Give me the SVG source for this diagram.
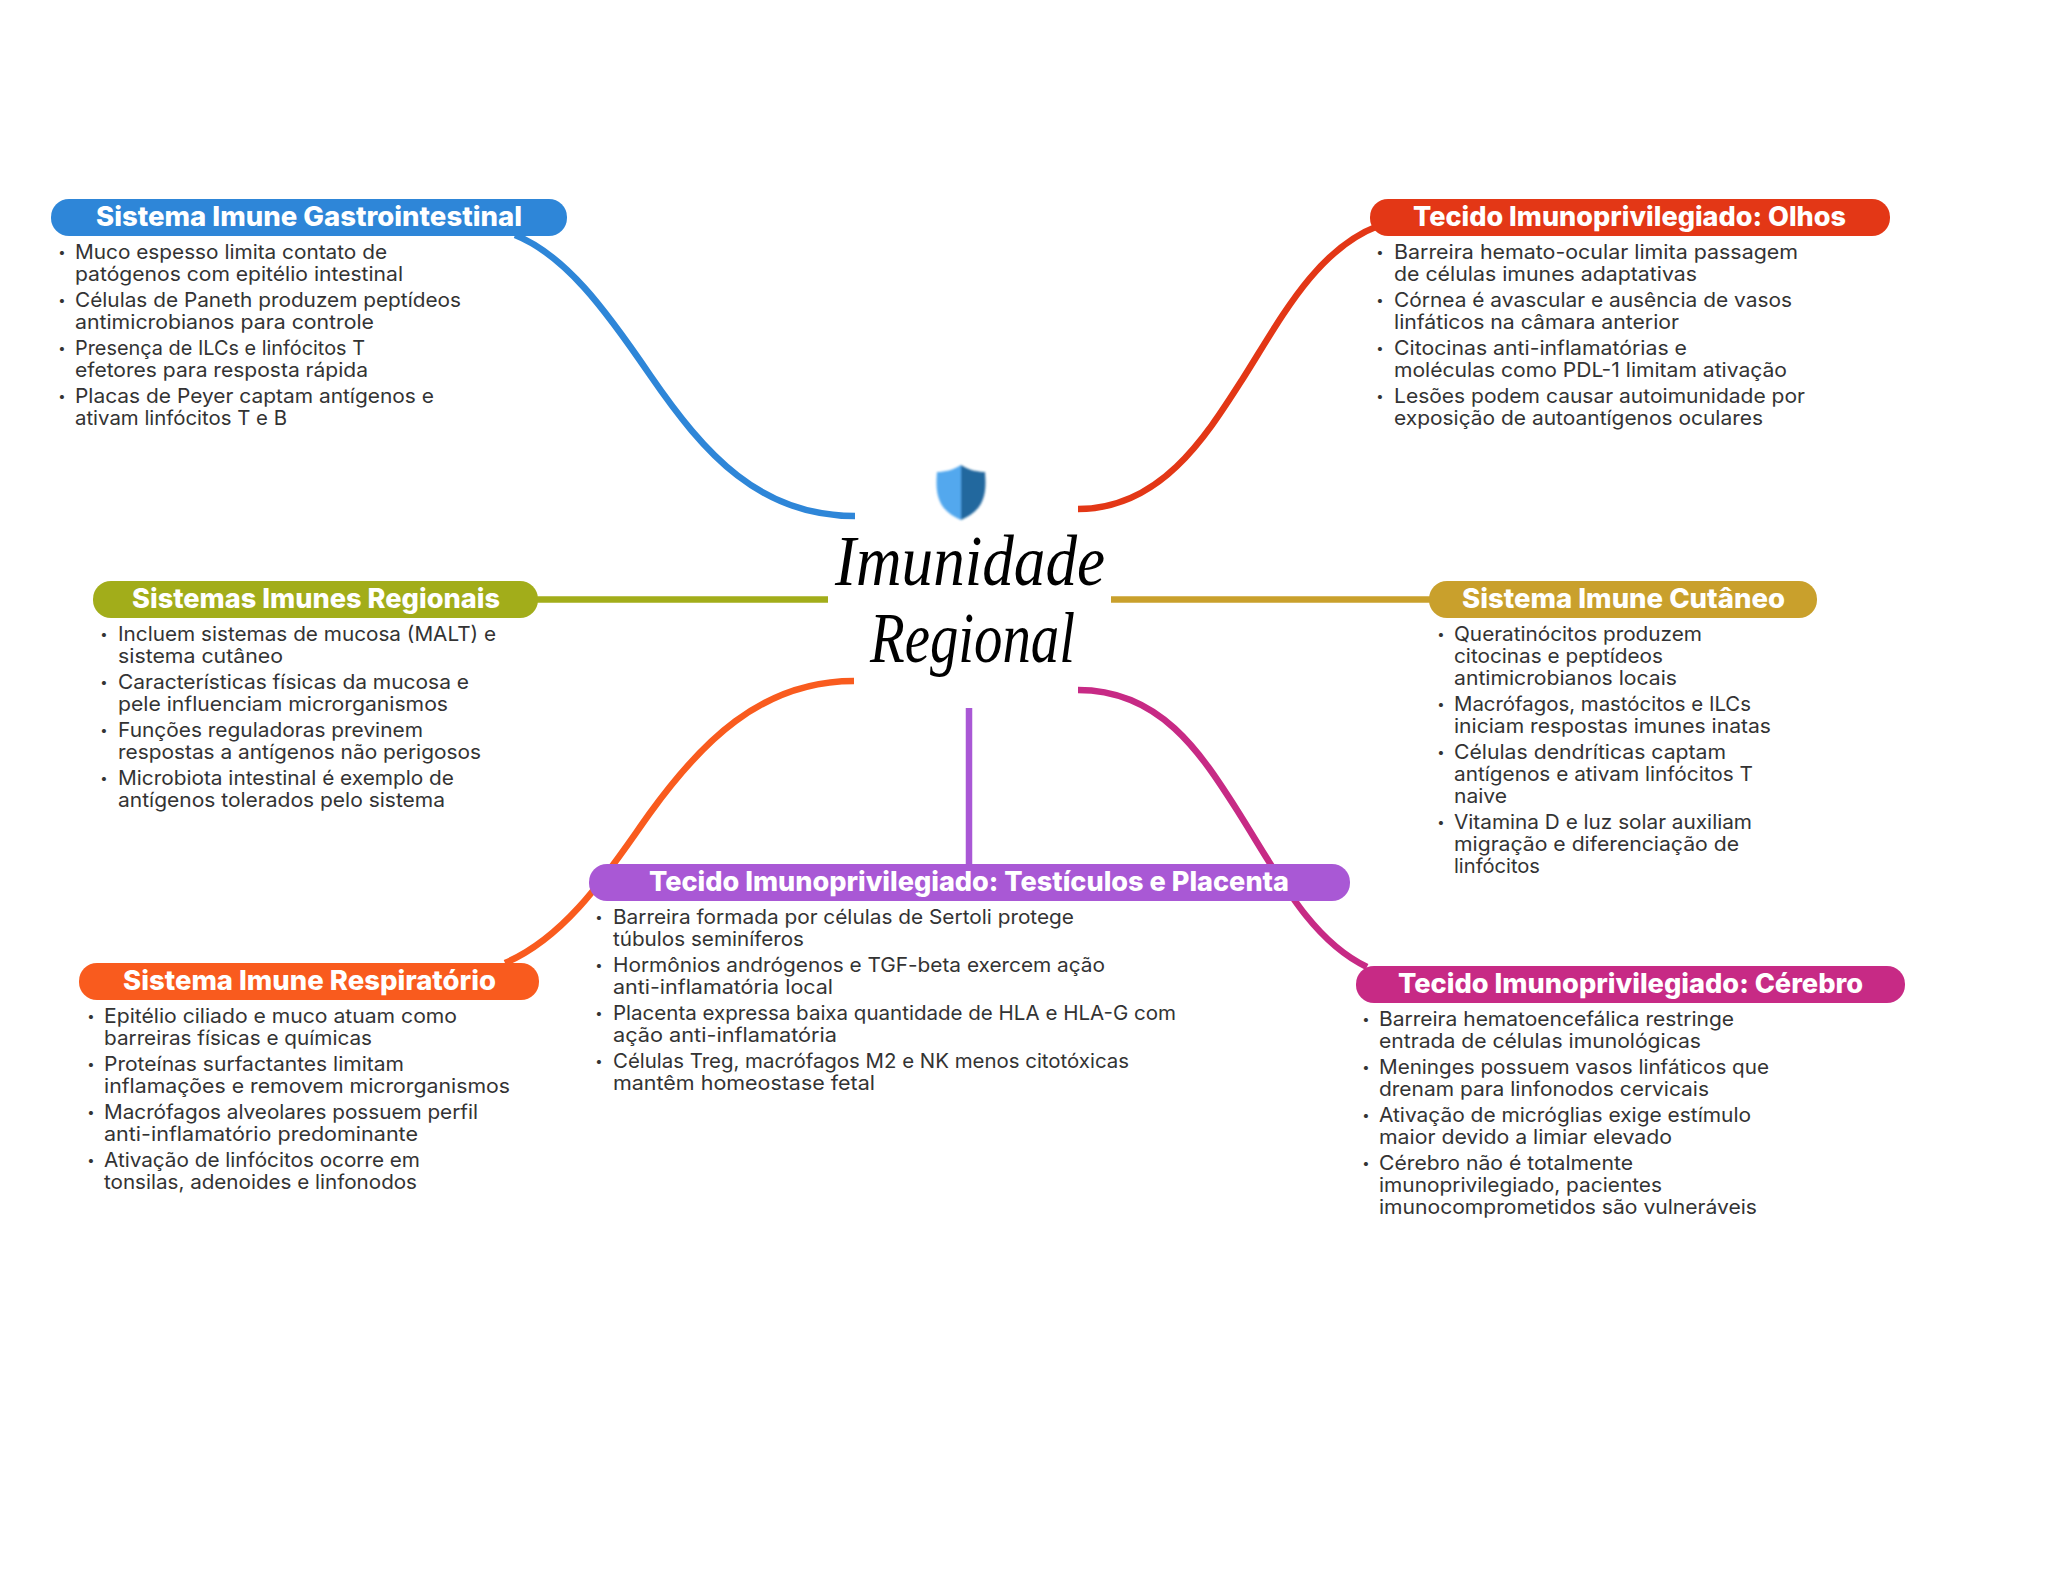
<svg xmlns="http://www.w3.org/2000/svg" width="2048" height="1569" viewBox="0 0 2048 1569">
<style>
.t{font-family:"Inter","Noto Sans","Liberation Sans",sans-serif;font-weight:800;font-size:27px;fill:#fff}
.b{font-family:"Inter","Noto Sans","Liberation Sans",sans-serif;font-weight:400;font-size:20px;fill:#333}
.d{font-family:"Inter","Noto Sans","Liberation Sans",sans-serif;font-size:13px;fill:#333;text-anchor:middle}
.c{fill:none;stroke-width:6.5}
.s{font-family:"Liberation Serif",serif;font-style:italic;font-size:72px;fill:#000}
</style>
<defs><filter id="soft" x="-20%" y="-20%" width="140%" height="140%"><feGaussianBlur stdDeviation="1.1"/></filter></defs>
<rect width="2048" height="1569" fill="#fff"/>
<g id="connectors">
<path class="c" stroke="#2E86D8" d="M855 516C760 516 705 455 650 375C605 309 565 255 515 235"/>
<path class="c" stroke="#E33716" d="M1078 509C1160 509 1205 438 1242 380C1279 322 1315 250 1378 226"/>
<path class="c" stroke="#A2AD1A" d="M828 599.500H530"/>
<path class="c" stroke="#C9A02C" d="M1111 599.500H1440"/>
<path class="c" stroke="#F95B1E" d="M854 681C760 681 700 744 650 813C612 866 570 935 505 963"/>
<path class="c" stroke="#C72A85" d="M1078 690C1160 690 1200 752 1237 810C1277 873 1310 940 1367 967"/>
<path class="c" stroke="#A958D5" d="M969 708V870"/>
</g>
<g id="center">
<g filter="url(#soft)"><path fill="#52A8EE" d="M961 465C953 470 945 472 937 472C935 495 938 510 961 520Z"/><path fill="#24689E" d="M961 465C969 470 977 472 985 472C987 495 984 510 961 520Z"/></g>
<text class="s" x="835" y="585" textLength="270" lengthAdjust="spacingAndGlyphs">Imunidade</text>
<text class="s" x="870" y="662" textLength="205" lengthAdjust="spacingAndGlyphs">Regional</text>
</g>
<g id="gastro">
<rect x="51" y="199" width="516" height="37" rx="18" fill="#2E86D8"/>
<text class="t" x="96" y="226" textLength="426" lengthAdjust="spacingAndGlyphs">Sistema Imune Gastrointestinal</text>
<text class="d" x="62" y="257">•</text><text class="d" x="62" y="305">•</text><text class="d" x="62" y="353">•</text><text class="d" x="62" y="401">•</text>
<text class="b" x="75" y="259" textLength="312" lengthAdjust="spacingAndGlyphs">Muco espesso limita contato de</text>
<text class="b" x="75" y="281" textLength="328" lengthAdjust="spacingAndGlyphs">patógenos com epitélio intestinal</text>
<text class="b" x="75" y="307" textLength="386" lengthAdjust="spacingAndGlyphs">Células de Paneth produzem peptídeos</text>
<text class="b" x="75" y="329" textLength="299" lengthAdjust="spacingAndGlyphs">antimicrobianos para controle</text>
<text class="b" x="75" y="355" textLength="290" lengthAdjust="spacingAndGlyphs">Presença de ILCs e linfócitos T</text>
<text class="b" x="75" y="377" textLength="293" lengthAdjust="spacingAndGlyphs">efetores para resposta rápida</text>
<text class="b" x="75" y="403" textLength="359" lengthAdjust="spacingAndGlyphs">Placas de Peyer captam antígenos e</text>
<text class="b" x="75" y="425" textLength="212" lengthAdjust="spacingAndGlyphs">ativam linfócitos T e B</text>
</g>
<g id="olhos">
<rect x="1370" y="199" width="520" height="37" rx="18" fill="#E33716"/>
<text class="t" x="1413" y="226" textLength="433" lengthAdjust="spacingAndGlyphs">Tecido Imunoprivilegiado: Olhos</text>
<text class="d" x="1380" y="257">•</text><text class="d" x="1380" y="305">•</text><text class="d" x="1380" y="353">•</text><text class="d" x="1380" y="401">•</text>
<text class="b" x="1394" y="259" textLength="404" lengthAdjust="spacingAndGlyphs">Barreira hemato-ocular limita passagem</text>
<text class="b" x="1394" y="281" textLength="303" lengthAdjust="spacingAndGlyphs">de células imunes adaptativas</text>
<text class="b" x="1394" y="307" textLength="398" lengthAdjust="spacingAndGlyphs">Córnea é avascular e ausência de vasos</text>
<text class="b" x="1394" y="329" textLength="285" lengthAdjust="spacingAndGlyphs">linfáticos na câmara anterior</text>
<text class="b" x="1394" y="355" textLength="293" lengthAdjust="spacingAndGlyphs">Citocinas anti-inflamatórias e</text>
<text class="b" x="1394" y="377" textLength="393" lengthAdjust="spacingAndGlyphs">moléculas como PDL-1 limitam ativação</text>
<text class="b" x="1394" y="403" textLength="411" lengthAdjust="spacingAndGlyphs">Lesões podem causar autoimunidade por</text>
<text class="b" x="1394" y="425" textLength="369" lengthAdjust="spacingAndGlyphs">exposição de autoantígenos oculares</text>
</g>
<g id="regionais">
<rect x="93" y="581" width="445" height="37" rx="18" fill="#A2AD1A"/>
<text class="t" x="132" y="608" textLength="368" lengthAdjust="spacingAndGlyphs">Sistemas Imunes Regionais</text>
<text class="d" x="104" y="639">•</text><text class="d" x="104" y="687">•</text><text class="d" x="104" y="735">•</text><text class="d" x="104" y="783">•</text>
<text class="b" x="118" y="641" textLength="378" lengthAdjust="spacingAndGlyphs">Incluem sistemas de mucosa (MALT) e</text>
<text class="b" x="118" y="663" textLength="165" lengthAdjust="spacingAndGlyphs">sistema cutâneo</text>
<text class="b" x="118" y="689" textLength="351" lengthAdjust="spacingAndGlyphs">Características físicas da mucosa e</text>
<text class="b" x="118" y="711" textLength="330" lengthAdjust="spacingAndGlyphs">pele influenciam microrganismos</text>
<text class="b" x="118" y="737" textLength="305" lengthAdjust="spacingAndGlyphs">Funções reguladoras previnem</text>
<text class="b" x="118" y="759" textLength="363" lengthAdjust="spacingAndGlyphs">respostas a antígenos não perigosos</text>
<text class="b" x="118" y="785" textLength="336" lengthAdjust="spacingAndGlyphs">Microbiota intestinal é exemplo de</text>
<text class="b" x="118" y="807" textLength="327" lengthAdjust="spacingAndGlyphs">antígenos tolerados pelo sistema</text>
</g>
<g id="cutaneo">
<rect x="1429" y="581" width="388" height="37" rx="18" fill="#C9A02C"/>
<text class="t" x="1462" y="608" textLength="323" lengthAdjust="spacingAndGlyphs">Sistema Imune Cutâneo</text>
<text class="d" x="1441" y="639">•</text><text class="d" x="1441" y="709">•</text><text class="d" x="1441" y="757">•</text><text class="d" x="1441" y="827">•</text>
<text class="b" x="1454" y="641" textLength="248" lengthAdjust="spacingAndGlyphs">Queratinócitos produzem</text>
<text class="b" x="1454" y="663" textLength="209" lengthAdjust="spacingAndGlyphs">citocinas e peptídeos</text>
<text class="b" x="1454" y="685" textLength="223" lengthAdjust="spacingAndGlyphs">antimicrobianos locais</text>
<text class="b" x="1454" y="711" textLength="297" lengthAdjust="spacingAndGlyphs">Macrófagos, mastócitos e ILCs</text>
<text class="b" x="1454" y="733" textLength="317" lengthAdjust="spacingAndGlyphs">iniciam respostas imunes inatas</text>
<text class="b" x="1454" y="759" textLength="272" lengthAdjust="spacingAndGlyphs">Células dendríticas captam</text>
<text class="b" x="1454" y="781" textLength="299" lengthAdjust="spacingAndGlyphs">antígenos e ativam linfócitos T</text>
<text class="b" x="1454" y="803" textLength="53" lengthAdjust="spacingAndGlyphs">naive</text>
<text class="b" x="1454" y="829" textLength="298" lengthAdjust="spacingAndGlyphs">Vitamina D e luz solar auxiliam</text>
<text class="b" x="1454" y="851" textLength="285" lengthAdjust="spacingAndGlyphs">migração e diferenciação de</text>
<text class="b" x="1454" y="873" textLength="86" lengthAdjust="spacingAndGlyphs">linfócitos</text>
</g>
<g id="testiculos">
<rect x="589" y="864" width="761" height="37" rx="18" fill="#A958D5"/>
<text class="t" x="649" y="891" textLength="640" lengthAdjust="spacingAndGlyphs">Tecido Imunoprivilegiado: Testículos e Placenta</text>
<text class="d" x="599" y="922">•</text><text class="d" x="599" y="970">•</text><text class="d" x="599" y="1018">•</text><text class="d" x="599" y="1066">•</text>
<text class="b" x="613" y="924" textLength="461" lengthAdjust="spacingAndGlyphs">Barreira formada por células de Sertoli protege</text>
<text class="b" x="613" y="946" textLength="191" lengthAdjust="spacingAndGlyphs">túbulos seminíferos</text>
<text class="b" x="613" y="972" textLength="492" lengthAdjust="spacingAndGlyphs">Hormônios andrógenos e TGF-beta exercem ação</text>
<text class="b" x="613" y="994" textLength="220" lengthAdjust="spacingAndGlyphs">anti-inflamatória local</text>
<text class="b" x="613" y="1020" textLength="563" lengthAdjust="spacingAndGlyphs">Placenta expressa baixa quantidade de HLA e HLA-G com</text>
<text class="b" x="613" y="1042" textLength="224" lengthAdjust="spacingAndGlyphs">ação anti-inflamatória</text>
<text class="b" x="613" y="1068" textLength="516" lengthAdjust="spacingAndGlyphs">Células Treg, macrófagos M2 e NK menos citotóxicas</text>
<text class="b" x="613" y="1090" textLength="262" lengthAdjust="spacingAndGlyphs">mantêm homeostase fetal</text>
</g>
<g id="respiratorio">
<rect x="79" y="963" width="460" height="37" rx="18" fill="#F95B1E"/>
<text class="t" x="123" y="990" textLength="373" lengthAdjust="spacingAndGlyphs">Sistema Imune Respiratório</text>
<text class="d" x="91" y="1021">•</text><text class="d" x="91" y="1069">•</text><text class="d" x="91" y="1117">•</text><text class="d" x="91" y="1165">•</text>
<text class="b" x="104" y="1023" textLength="353" lengthAdjust="spacingAndGlyphs">Epitélio ciliado e muco atuam como</text>
<text class="b" x="104" y="1045" textLength="268" lengthAdjust="spacingAndGlyphs">barreiras físicas e químicas</text>
<text class="b" x="104" y="1071" textLength="300" lengthAdjust="spacingAndGlyphs">Proteínas surfactantes limitam</text>
<text class="b" x="104" y="1093" textLength="406" lengthAdjust="spacingAndGlyphs">inflamações e removem microrganismos</text>
<text class="b" x="104" y="1119" textLength="374" lengthAdjust="spacingAndGlyphs">Macrófagos alveolares possuem perfil</text>
<text class="b" x="104" y="1141" textLength="314" lengthAdjust="spacingAndGlyphs">anti-inflamatório predominante</text>
<text class="b" x="104" y="1167" textLength="316" lengthAdjust="spacingAndGlyphs">Ativação de linfócitos ocorre em</text>
<text class="b" x="104" y="1189" textLength="313" lengthAdjust="spacingAndGlyphs">tonsilas, adenoides e linfonodos</text>
</g>
<g id="cerebro">
<rect x="1356" y="966" width="549" height="37" rx="18" fill="#C72A85"/>
<text class="t" x="1398" y="993" textLength="465" lengthAdjust="spacingAndGlyphs">Tecido Imunoprivilegiado: Cérebro</text>
<text class="d" x="1366" y="1024">•</text><text class="d" x="1366" y="1072">•</text><text class="d" x="1366" y="1120">•</text><text class="d" x="1366" y="1168">•</text>
<text class="b" x="1379" y="1026" textLength="355" lengthAdjust="spacingAndGlyphs">Barreira hematoencefálica restringe</text>
<text class="b" x="1379" y="1048" textLength="322" lengthAdjust="spacingAndGlyphs">entrada de células imunológicas</text>
<text class="b" x="1379" y="1074" textLength="390" lengthAdjust="spacingAndGlyphs">Meninges possuem vasos linfáticos que</text>
<text class="b" x="1379" y="1096" textLength="330" lengthAdjust="spacingAndGlyphs">drenam para linfonodos cervicais</text>
<text class="b" x="1379" y="1122" textLength="372" lengthAdjust="spacingAndGlyphs">Ativação de micróglias exige estímulo</text>
<text class="b" x="1379" y="1144" textLength="293" lengthAdjust="spacingAndGlyphs">maior devido a limiar elevado</text>
<text class="b" x="1379" y="1170" textLength="254" lengthAdjust="spacingAndGlyphs">Cérebro não é totalmente</text>
<text class="b" x="1379" y="1192" textLength="283" lengthAdjust="spacingAndGlyphs">imunoprivilegiado, pacientes</text>
<text class="b" x="1379" y="1214" textLength="378" lengthAdjust="spacingAndGlyphs">imunocomprometidos são vulneráveis</text>
</g>
</svg>
